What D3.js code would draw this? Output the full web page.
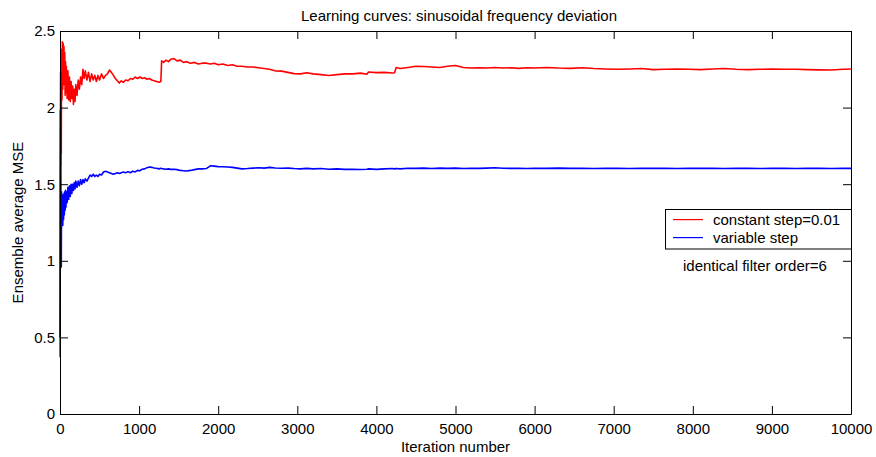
<!DOCTYPE html>
<html>
<head>
<meta charset="utf-8">
<script src="https://cdn.jsdelivr.net/npm/d3@7/dist/d3.min.js"></script>
<style>
  html, body { margin: 0; padding: 0; background: #fff; }
  svg { display: block; font-family: "Liberation Sans", Arial, Helvetica, sans-serif; }
</style>
</head>
<body>
<svg id="chart" width="876" height="457"></svg>
<script>
// Iteration index at which each MSE sample was recorded
const iterations = [
  0, 4, 8, 12, 16, 20, 25, 30, 35, 40, 45, 50, 55, 60, 65, 70, 75, 80, 90, 100,
  110, 120, 130, 140, 150, 160, 170, 180, 190, 200, 215, 230, 245, 260, 275, 290, 305, 320, 340, 360,
  380, 400, 420, 440, 460, 480, 500, 525, 550, 575, 600, 625, 650, 675, 700, 725, 750, 775, 800, 830,
  860, 890, 920, 950, 980, 1010, 1040, 1070, 1100, 1130, 1160, 1190, 1220, 1250, 1275, 1285, 1310, 1340, 1370, 1400,
  1440, 1480, 1520, 1560, 1600, 1650, 1700, 1750, 1800, 1850, 1900, 1950, 2000, 2060, 2120, 2180, 2240, 2300, 2370, 2440,
  2510, 2580, 2650, 2720, 2800, 2880, 2960, 3040, 3120, 3200, 3300, 3400, 3500, 3600, 3700, 3800, 3880, 3900, 4000, 4100,
  4200, 4230, 4250, 4300, 4400, 4500, 4600, 4700, 4800, 4900, 5000, 5100, 5200, 5300, 5400, 5500, 5600, 5700, 5800, 5900,
  6000, 6150, 6300, 6450, 6600, 6750, 6900, 7050, 7200, 7350, 7500, 7650, 7800, 7950, 8100, 8250, 8400, 8550, 8700, 8850,
  9000, 9150, 9300, 9450, 9600, 9750, 9900, 10000
];

// Ensemble average MSE, constant step size 0.01
const constantStepMSE = [
  0.37, 1.98, 1.62, 2.10, 1.70, 2.38, 2.05, 2.43, 2.12, 2.42, 2.15, 2.40, 2.18, 2.36, 2.08, 2.30, 2.10, 2.27, 2.06, 2.24,
  2.05, 2.20, 2.04, 2.17, 2.06, 2.14, 2.02, 2.12, 2.04, 2.15, 2.08, 2.18, 2.12, 2.20, 2.15, 2.25, 2.19, 2.24, 2.18, 2.23,
  2.17, 2.22, 2.18, 2.21, 2.17, 2.21, 2.18, 2.22, 2.19, 2.21, 2.22, 2.245, 2.23, 2.21, 2.19, 2.175, 2.16, 2.175, 2.165, 2.18,
  2.175, 2.19, 2.185, 2.20, 2.19, 2.20, 2.19, 2.195, 2.185, 2.19, 2.18, 2.175, 2.17, 2.165, 2.17, 2.305, 2.295, 2.31, 2.30, 2.315,
  2.32, 2.305, 2.31, 2.295, 2.30, 2.29, 2.295, 2.285, 2.29, 2.29, 2.285, 2.29, 2.28, 2.285, 2.275, 2.28, 2.27, 2.27, 2.265, 2.265,
  2.26, 2.255, 2.25, 2.24, 2.238, 2.23, 2.222, 2.22, 2.228, 2.22, 2.215, 2.21, 2.215, 2.22, 2.22, 2.225, 2.218, 2.232, 2.228, 2.23,
  2.226, 2.228, 2.262, 2.255, 2.262, 2.27, 2.268, 2.265, 2.262, 2.27, 2.275, 2.262, 2.258, 2.26, 2.258, 2.262, 2.258, 2.26, 2.256, 2.26,
  2.258, 2.262, 2.258, 2.256, 2.26, 2.255, 2.252, 2.25, 2.252, 2.255, 2.248, 2.25, 2.252, 2.25, 2.248, 2.252, 2.255, 2.25, 2.248, 2.25,
  2.252, 2.25, 2.25, 2.248, 2.246, 2.245, 2.25, 2.252
];

// Ensemble average MSE, variable step size
const variableStepMSE = [
  0.50, 1.40, 2.23, 1.30, 0.96, 1.45, 1.24, 1.43, 1.23, 1.41, 1.27, 1.44, 1.30, 1.45, 1.33, 1.46, 1.35, 1.45, 1.38, 1.48,
  1.40, 1.49, 1.42, 1.50, 1.44, 1.50, 1.46, 1.51, 1.47, 1.52, 1.48, 1.52, 1.49, 1.53, 1.50, 1.53, 1.51, 1.535, 1.52, 1.54,
  1.56, 1.55, 1.565, 1.55, 1.56, 1.55, 1.565, 1.56, 1.58, 1.585, 1.58, 1.575, 1.57, 1.565, 1.57, 1.575, 1.57, 1.575, 1.58, 1.575,
  1.582, 1.575, 1.585, 1.58, 1.59, 1.588, 1.598, 1.60, 1.608, 1.612, 1.61, 1.606, 1.604, 1.60, 1.604, 1.602, 1.60, 1.598, 1.60, 1.597,
  1.598, 1.595, 1.59, 1.588, 1.586, 1.59, 1.595, 1.60, 1.60, 1.602, 1.62, 1.618, 1.615, 1.614, 1.612, 1.61, 1.605, 1.60, 1.602, 1.605,
  1.607, 1.605, 1.61, 1.606, 1.604, 1.605, 1.602, 1.60, 1.603, 1.60, 1.602, 1.598, 1.60, 1.597, 1.598, 1.596, 1.598, 1.60, 1.597, 1.60,
  1.602, 1.60, 1.603, 1.60, 1.604, 1.603, 1.605, 1.602, 1.605, 1.603, 1.605, 1.602, 1.604, 1.603, 1.605, 1.607, 1.604, 1.603, 1.604, 1.602,
  1.604, 1.603, 1.605, 1.603, 1.604, 1.602, 1.603, 1.604, 1.602, 1.603, 1.604, 1.603, 1.602, 1.603, 1.604, 1.603, 1.602, 1.603, 1.603, 1.602,
  1.603, 1.603, 1.602, 1.603, 1.603, 1.602, 1.603, 1.603
];

const xTicks = [0, 1000, 2000, 3000, 4000, 5000, 6000, 7000, 8000, 9000, 10000];
const yTicks = [0, 0.5, 1, 1.5, 2, 2.5];
const seriesNames = ["constant step=0.01", "variable step"];
const seriesColors = ["#ff0000", "#0000ff"];

const titleText = "Learning curves: sinusoidal frequency deviation";
const xLabelText = "Iteration number";
const yLabelText = "Ensemble average MSE";
const noteText = "identical filter order=6";

const svg = d3.select("#chart");
const plot = { left: 60, right: 851, top: 31, bottom: 414 };
const fontSize = 15;

const x = d3.scaleLinear().domain([0, 10000]).range([plot.left, plot.right]);
const y = d3.scaleLinear().domain([0, 2.5]).range([plot.bottom, plot.top]);

// Curves (variable step drawn last so it sits on top)
const line = d3.line()
  .x(d => x(d[0]))
  .y(d => y(d[1]));

const series = [constantStepMSE, variableStepMSE].map((vals, k) => ({
  color: seriesColors[k],
  points: iterations.map((it, i) => [it, vals[i]])
}));

svg.append("g")
  .selectAll("path")
  .data(series)
  .join("path")
  .attr("fill", "none")
  .attr("stroke", d => d.color)
  .attr("stroke-width", 1.6)
  .attr("stroke-linejoin", "round")
  .attr("d", d => line(d.points));

// Axes: ticks point inward on all four sides
function styleAxis(g) {
  g.attr("font-family", null);
  g.selectAll(".domain").attr("stroke", "#000").attr("stroke-width", 1);
  g.selectAll(".tick line").attr("stroke", "#000");
  g.selectAll(".tick text").attr("fill", "#000").style("font-size", fontSize + "px");
}

svg.append("g")
  .attr("transform", `translate(0,${plot.bottom})`)
  .call(d3.axisBottom(x).tickValues(xTicks).tickFormat(d3.format("d")).tickSizeInner(-8).tickSizeOuter(0).tickPadding(9))
  .call(styleAxis);

svg.append("g")
  .attr("transform", `translate(0,${plot.top})`)
  .call(d3.axisTop(x).tickValues(xTicks).tickFormat("").tickSizeInner(-8).tickSizeOuter(0))
  .call(styleAxis);

svg.append("g")
  .attr("transform", `translate(${plot.left},0)`)
  .call(d3.axisLeft(y).tickValues(yTicks).tickFormat(d3.format("")).tickSizeInner(-8).tickSizeOuter(0).tickPadding(5))
  .call(styleAxis);

svg.append("g")
  .attr("transform", `translate(${plot.right},0)`)
  .call(d3.axisRight(y).tickValues(yTicks).tickFormat("").tickSizeInner(-8).tickSizeOuter(0))
  .call(styleAxis);

// Title and axis labels
svg.append("text")
  .attr("x", 459).attr("y", 20.5)
  .attr("text-anchor", "middle")
  .style("font-size", fontSize + "px")
  .text(titleText);

svg.append("text")
  .attr("x", (plot.left + plot.right) / 2).attr("y", 452)
  .attr("text-anchor", "middle")
  .style("font-size", fontSize + "px")
  .text(xLabelText);

svg.append("text")
  .attr("transform", `translate(23,${(plot.top + plot.bottom) / 2}) rotate(-90)`)
  .attr("text-anchor", "middle")
  .style("font-size", fontSize + "px")
  .text(yLabelText);

// Legend box with a colour swatch per series
const legendX = 665.5, legendY = 209.5, rowGap = 18;
svg.append("rect")
  .attr("x", legendX).attr("y", legendY)
  .attr("width", 186).attr("height", 39.5)
  .attr("fill", "#fff").attr("stroke", "#000");

seriesNames.forEach((name, i) => {
  const rowY = legendY + 10 + i * rowGap;
  svg.append("rect")
    .attr("x", 673).attr("y", rowY - 0.5)
    .attr("width", 30).attr("height", 1.2)
    .style("fill", seriesColors[i])
    .style("stroke", "none");
  svg.append("text")
    .attr("x", 713).attr("y", rowY + 5)
    .style("font-size", fontSize + "px")
    .text(name);
});

svg.append("text")
  .attr("x", 683).attr("y", 271)
  .style("font-size", fontSize + "px")
  .text(noteText);
</script>
</body>
</html>
